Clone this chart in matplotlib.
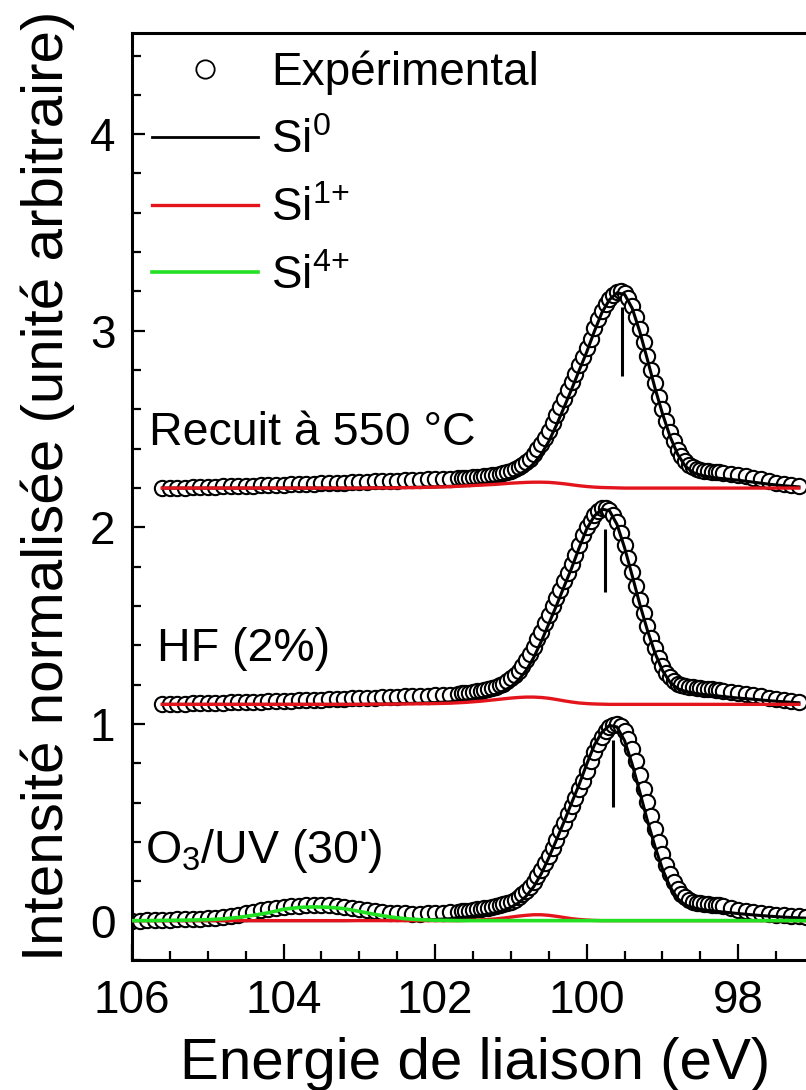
import numpy as np
import matplotlib
matplotlib.use('Agg')
import matplotlib.pyplot as plt
from matplotlib.ticker import MultipleLocator

plt.rcParams['font.family'] = ['Liberation Sans', 'DejaVu Sans']
plt.rcParams['mathtext.default'] = 'regular'

nan = np.nan

# grilles en énergie (eV) : pas fin autour du pic Si 2p
energie_exp = np.round(np.concatenate([np.arange(106.0, 101.65, -0.1),
                                       np.arange(101.65, 98.24, -0.05),
                                       np.arange(98.2, 97.05, -0.1)]), 2)
energie_fit = np.round(np.concatenate([np.arange(106.0, 101.75, -0.2),
                                       np.arange(101.7, 97.95, -0.1),
                                       np.arange(97.8, 96.95, -0.2)]), 2)

echantillons = ["Recuit à 550 °C", "HF (2%)", "O$_3$/UV (30')"]
decalages = [2.2, 1.1, 0.0]

# points expérimentaux (intensité normalisée, sans décalage)
exp_recuit = (
    [nan] * 4 +
    [0.000, 0.000, 0.000, 0.000, 0.005, 0.005, 0.005, 0.005, 0.010, 0.010,
     0.010, 0.010, 0.012, 0.015, 0.015, 0.015, 0.018, 0.020, 0.020, 0.020,
     0.022, 0.025, 0.025, 0.025, 0.028, 0.030, 0.030, 0.032, 0.034, 0.035,
     0.036, 0.038, 0.040, 0.041, 0.042, 0.044, 0.045, 0.047, 0.048, 0.050] +
    [0.051, 0.052, 0.053, 0.054, 0.056, 0.058, 0.060, 0.063, 0.066, 0.069,
     0.073, 0.078, 0.083, 0.089, 0.096, 0.105, 0.118, 0.133, 0.150, 0.172,
     0.197, 0.225, 0.257, 0.292, 0.330, 0.370, 0.412, 0.455, 0.498, 0.540,
     0.582, 0.625, 0.668, 0.712, 0.760, 0.812, 0.860, 0.900, 0.935, 0.963,
     0.984, 0.997, 1.000, 0.990, 0.965, 0.925, 0.872, 0.810, 0.742, 0.672,
     0.602, 0.532, 0.465, 0.400, 0.340, 0.285, 0.237, 0.195, 0.162, 0.137,
     0.118, 0.105, 0.097, 0.092, 0.089, 0.086, 0.084, 0.082, 0.080] +
    [0.078, 0.074, 0.068, 0.060, 0.052, 0.044, 0.036, 0.028, 0.021, 0.015,
     0.010, nan])
exp_hf = (
    [nan] * 4 +
    [0.000, 0.000, 0.002, 0.004, 0.005, 0.006, 0.007, 0.008, 0.009, 0.010,
     0.011, 0.012, 0.013, 0.014, 0.015, 0.016, 0.018, 0.019, 0.020, 0.021,
     0.022, 0.024, 0.025, 0.027, 0.028, 0.030, 0.031, 0.033, 0.034, 0.036,
     0.037, 0.039, 0.040, 0.042, 0.043, 0.045, 0.046, 0.048, 0.050, 0.053] +
    [0.056, 0.058, 0.060, 0.063, 0.066, 0.069, 0.073, 0.078, 0.083, 0.089,
     0.096, 0.105, 0.118, 0.133, 0.150, 0.172, 0.197, 0.225, 0.257, 0.292,
     0.330, 0.370, 0.412, 0.455, 0.498, 0.540, 0.582, 0.625, 0.668, 0.712,
     0.760, 0.812, 0.860, 0.900, 0.935, 0.963, 0.984, 0.997, 1.000, 0.990,
     0.965, 0.925, 0.872, 0.810, 0.742, 0.672, 0.602, 0.532, 0.465, 0.400,
     0.340, 0.285, 0.237, 0.195, 0.162, 0.137, 0.118, 0.105, 0.097, 0.092,
     0.089, 0.086, 0.084, 0.082, 0.080, 0.078, 0.076, 0.074, 0.071] +
    [0.068, 0.064, 0.058, 0.052, 0.046, 0.040, 0.034, 0.028, 0.023, 0.018,
     0.014, nan])
exp_o3uv = (
    [0.000, 0.000, 0.002, 0.003, 0.004, 0.005, 0.006, 0.007, 0.008, 0.010,
     0.012, 0.015, 0.019, 0.024, 0.030, 0.037, 0.044, 0.052, 0.059, 0.065,
     0.070, 0.074, 0.077, 0.079, 0.080, 0.080, 0.078, 0.075, 0.070, 0.064,
     0.058, 0.052, 0.047, 0.043, 0.040, 0.038, 0.037, 0.036, 0.036, 0.037,
     0.038, 0.040, 0.042, 0.045] +
    [0.047, 0.049, 0.051, 0.054, 0.057, 0.060, 0.063, 0.066, 0.069, 0.073,
     0.078, 0.083, 0.089, 0.096, 0.105, 0.118, 0.133, 0.150, 0.172, 0.197,
     0.225, 0.257, 0.292, 0.330, 0.370, 0.412, 0.455, 0.498, 0.540, 0.582,
     0.625, 0.668, 0.712, 0.760, 0.812, 0.860, 0.900, 0.935, 0.963, 0.984,
     0.997, 1.000, 0.990, 0.965, 0.925, 0.872, 0.810, 0.742, 0.672, 0.602,
     0.532, 0.465, 0.400, 0.340, 0.285, 0.237, 0.195, 0.162, 0.137, 0.118,
     0.105, 0.097, 0.092, 0.089, 0.086, 0.084, 0.082, 0.080, 0.078] +
    [0.072, 0.064, 0.056, 0.049, 0.043, 0.038, 0.034, 0.030, 0.027, 0.024,
     0.022, 0.020])

# composantes ajustées : Si0
si0_recuit = (
    [nan, nan] + [0.0] * 14 + [0.001, 0.002, 0.003, 0.004, 0.006, 0.009] +
    [0.012, 0.015, 0.018, 0.022, 0.027, 0.033, 0.041, 0.052, 0.068, 0.090,
     0.124, 0.172, 0.238, 0.320, 0.410, 0.502, 0.598, 0.692, 0.796, 0.892,
     0.958, 0.993, 0.985, 0.915, 0.796, 0.655, 0.510, 0.378, 0.262, 0.172,
     0.112, 0.080, 0.066, 0.058, 0.052, 0.048, 0.044, 0.040] +
    [0.030, 0.020, 0.012, 0.006, nan])
si0_hf = (
    [nan, nan] + [0.0] * 14 + [0.001, 0.002, 0.004, 0.006, 0.009, 0.013] +
    [0.018, 0.022, 0.027, 0.033, 0.041, 0.052, 0.068, 0.090, 0.124, 0.172,
     0.238, 0.320, 0.410, 0.502, 0.598, 0.692, 0.796, 0.892, 0.958, 0.993,
     0.985, 0.915, 0.796, 0.655, 0.510, 0.378, 0.262, 0.172, 0.112, 0.080,
     0.066, 0.058, 0.052, 0.048, 0.044, 0.040, 0.036, 0.032] +
    [0.026, 0.019, 0.013, 0.008, nan])
si0_o3uv = (
    [0.0] * 15 + [0.001, 0.001, 0.002, 0.003, 0.004, 0.006, 0.010] +
    [0.015, 0.018, 0.022, 0.027, 0.033, 0.041, 0.052, 0.068, 0.090, 0.124,
     0.172, 0.238, 0.320, 0.410, 0.502, 0.598, 0.692, 0.796, 0.892, 0.958,
     0.993, 0.985, 0.915, 0.796, 0.655, 0.510, 0.378, 0.262, 0.172, 0.112,
     0.080, 0.066, 0.058, 0.052, 0.048, 0.044, 0.040, 0.036] +
    [0.029, 0.023, 0.018, 0.014, 0.011])

# Si1+
si1_recuit = (
    [nan, nan] + [0.0] * 14 + [0.001, 0.001, 0.002, 0.003, 0.005, 0.007] +
    [0.009, 0.011, 0.013, 0.015, 0.017, 0.019, 0.022, 0.025, 0.027, 0.029,
     0.030, 0.030, 0.029, 0.026, 0.022, 0.017, 0.012, 0.008, 0.005, 0.003,
     0.002, 0.001] + [0.0] * 16 +
    [0.0] * 4 + [nan])
si1_hf = (
    [nan, nan] + [0.0] * 14 + [0.001, 0.001, 0.002, 0.003, 0.004, 0.006] +
    [0.008, 0.010, 0.013, 0.016, 0.020, 0.024, 0.028, 0.032, 0.035, 0.037,
     0.037, 0.035, 0.031, 0.025, 0.018, 0.012, 0.007, 0.004, 0.002, 0.001] +
    [0.0] * 18 +
    [0.0] * 4 + [nan])
si1_o3uv = (
    [0.0] * 22 +
    [0.000, 0.001, 0.002, 0.004, 0.006, 0.009, 0.013, 0.018, 0.023, 0.027,
     0.030, 0.030, 0.027, 0.022, 0.016, 0.010, 0.006, 0.003, 0.001, 0.000] +
    [0.0] * 18 +
    [0.0] * 5)

# Si4+ (seulement O3/UV)
si4_o3uv = (
    [0.000, 0.000, 0.001, 0.002, 0.003, 0.005, 0.009, 0.016, 0.027, 0.040,
     0.058, 0.067, 0.070, 0.068, 0.061, 0.047, 0.032, 0.019, 0.010, 0.005,
     0.002, 0.001] +
    [0.0] * 38 + [0.0] * 5)

# position des pics Si0 (traits verticaux)
pic_position = [99.54, 99.76, 99.65]
pic_bas = [2.77, 1.67, 0.58]
pic_haut = [3.12, 1.99, 0.92]

# position des étiquettes
etiquette_x = [105.77, 105.67, 105.83]
etiquette_y = [2.42, 1.32, 0.295]

rouge = '#e3141c'
vert = '#22e022'

fig = plt.figure(figsize=(8.06, 10.9), dpi=100)
ax = fig.add_axes([0.1638, 0.1193, 0.8462, 0.8505])

exps = [exp_recuit, exp_hf, exp_o3uv]
si0s = [si0_recuit, si0_hf, si0_o3uv]
si1s = [si1_recuit, si1_hf, si1_o3uv]

for i in range(3):
    d = decalages[i]
    ax.plot(energie_exp, np.array(exps[i]) + d, 'o', ms=11, mfc='white',
            mec='black', mew=1.5, zorder=2)
    ax.plot(energie_fit, np.array(si0s[i]) + d, color='black', lw=2.2, zorder=3)
    ax.plot(energie_fit, np.array(si1s[i]) + d, color=rouge, lw=2.4, zorder=4)
ax.plot(energie_fit, np.array(si4_o3uv) + decalages[2], color=vert, lw=2.6, zorder=5)

ax.vlines(pic_position, pic_bas, pic_haut, color='black', lw=2.2, zorder=6)

for i in range(3):
    ax.text(etiquette_x[i], etiquette_y[i], echantillons[i], fontsize=33.5,
            va='baseline', ha='left')

# légende
h_exp, = ax.plot([], [], 'o', ms=11, mfc='white', mec='black', mew=1.3)
h_si0, = ax.plot([], [], color='black', lw=2.0)
h_si1, = ax.plot([], [], color=rouge, lw=2.4)
h_si4, = ax.plot([], [], color=vert, lw=2.6)
ax.legend([h_exp, h_si0, h_si1, h_si4],
          ['Expérimental', 'Si$^0$', 'Si$^{1{+}}$', 'Si$^{4{+}}$'],
          loc='upper left', bbox_to_anchor=(0.029, 0.981), frameon=False,
          fontsize=33, handlelength=2.31, handletextpad=0.3, labelspacing=0.52,
          borderpad=0, borderaxespad=0, markerscale=1.2, numpoints=1)

ax.set_xlim(106, 97)
ax.set_ylim(-0.2, 4.515)
ax.xaxis.set_major_locator(MultipleLocator(2))
ax.xaxis.set_minor_locator(MultipleLocator(0.5))
ax.yaxis.set_major_locator(MultipleLocator(1))
ax.yaxis.set_minor_locator(MultipleLocator(0.2))
ax.tick_params(axis='both', which='both', direction='in', width=1.6,
               top=False, right=False, labelsize=33)
ax.tick_params(axis='x', which='major', length=11.5, pad=14)
ax.tick_params(axis='y', which='major', length=9.5, pad=12)
ax.tick_params(axis='both', which='minor', length=6.5)
for s in ax.spines.values():
    s.set_linewidth(2.2)

ax.set_xlabel('Energie de liaison (eV)', fontsize=42)
ax.set_ylabel('Intensité normalisée (unité arbitraire)', fontsize=42)
ax.xaxis.set_label_coords(0.503, -0.083)
ax.yaxis.set_label_coords(-0.084, 0.511)

fig.savefig('out.png', dpi=100)
